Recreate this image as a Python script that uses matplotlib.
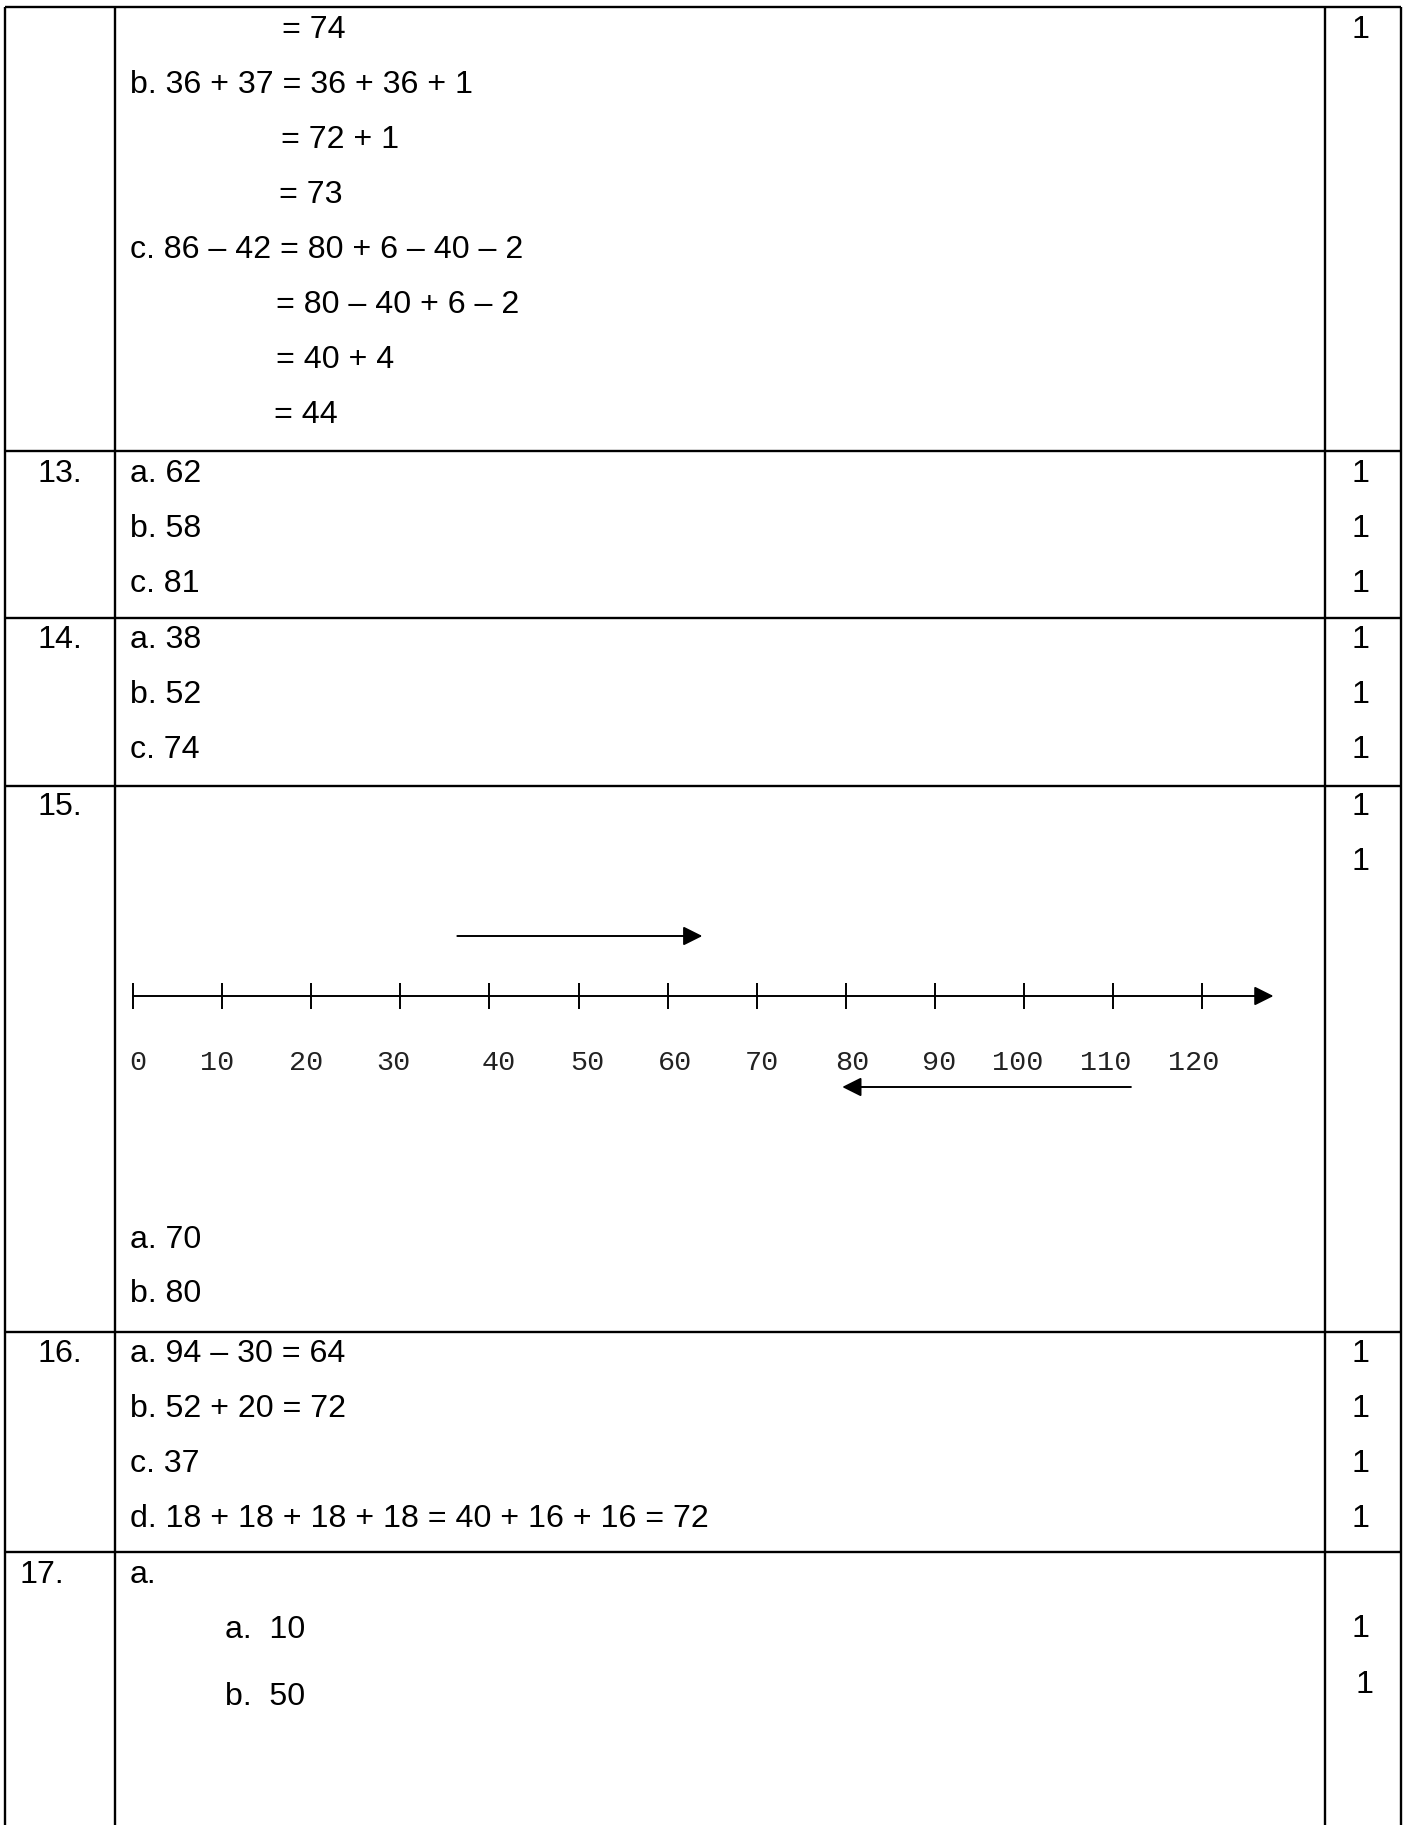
import matplotlib
matplotlib.use("Agg")
import matplotlib.pyplot as plt

W, H = 1406, 1825
SANS = ["Liberation Sans", "DejaVu Sans"]
MONO = ["Liberation Mono", "DejaVu Sans Mono"]
FS = 23.1      # main text size (pt)
FS_MONO = 20.5 # number line labels (pt)

# ---------------- data ----------------
question_labels = ["13.", "14.", "15.", "16.", "17."]

q12_lines = ["= 74", "b. 36 + 37 = 36 + 36 + 1", "= 72 + 1", "= 73",
             "c. 86 \u2013 42 = 80 + 6 \u2013 40 \u2013 2", "= 80 \u2013 40 + 6 \u2013 2",
             "= 40 + 4", "= 44"]
q13_lines = ["a. 62", "b. 58", "c. 81"]
q14_lines = ["a. 38", "b. 52", "c. 74"]
q15_lines = ["a. 70", "b. 80"]
q16_lines = ["a. 94 \u2013 30 = 64", "b. 52 + 20 = 72", "c. 37",
             "d. 18 + 18 + 18 + 18 = 40 + 16 + 16 = 72"]
q17_lines = ["a.", "a.  10", "b.  50"]
mark_text = "1"

numberline_values = [0, 10, 20, 30, 40, 50, 60, 70, 80, 90, 100, 110, 120]
numberline_labels = ["0", "10", "20", "30", "40", "50", "60", "70", "80", "90", "100", "110", "120"]
numberline_end = 128
jump_forward = (36.4, 63.9)   # upper arrow: from -> to
jump_back = (112.0, 79.6)     # lower arrow: from -> to

# ---------------- layout (pixels) ----------------
col_x = [5, 115, 1325, 1401]
row_lines = [7, 451, 618, 786, 1332, 1552]
ans_x = 130
mark_x = 1361
q_label_x = 60

q12_x = [282, 130, 281, 279, 130, 276, 276, 274]
q12_y = [38, 93, 148, 203, 258, 313, 368, 423]
q13_y = [482, 537, 592]
q14_y = [648, 703, 758]
q15_y = [1248, 1302]
q16_y = [1362, 1417, 1472, 1527]
q17_x = [130, 225, 225]
q17_y = [1583, 1638, 1705]
label_y = [482, 648, 815, 1362, 1583]

marks_y = [38, 482, 537, 592, 648, 703, 758, 815, 870, 1362, 1417, 1472, 1527, 1637, 1693]
marks_dx = [0] * 14 + [3]

nl_px0, nl_px_per_unit = 133.0, 8.91
nl_y, tick_half, nl_label_y = 996, 13, 1070
up_arrow_y, down_arrow_y = 936, 1087
label_nudge = [0.5, -0.6, -0.6, -0.8, 1.1, 1.0, 0.8, 0.6, 0.7, 0.5, -0.7, -0.8, -1.0]

# ---------------- figure ----------------
fig = plt.figure(figsize=(W / 100, H / 100), dpi=100)
fig.patch.set_facecolor("white")
ax = fig.add_axes([0, 0, 1, 1])
ax.set_xlim(0, W)
ax.set_ylim(H, 0)
ax.axis("off")

LW = 1.7
# horizontal rules
for y in row_lines:
    ax.plot([col_x[0], col_x[-1]], [y, y], color="black", lw=LW, solid_capstyle="butt")
# vertical rules
for x in col_x:
    ax.plot([x, x], [row_lines[0], H], color="black", lw=LW, solid_capstyle="butt")

def put(x, y, s, ha="left", **kw):
    ax.text(x, y, s, ha=ha, va="baseline", fontsize=FS, family=SANS, color="black", **kw)

for lab, y in zip(question_labels, label_y):
    if lab == "17.":
        put(20, y, lab)
    else:
        put(q_label_x, y, lab, ha="center")

for s, x, y in zip(q12_lines, q12_x, q12_y):
    put(x, y, s)
for s, y in zip(q13_lines, q13_y):
    put(ans_x, y, s)
for s, y in zip(q14_lines, q14_y):
    put(ans_x, y, s)
for s, y in zip(q15_lines, q15_y):
    put(ans_x, y, s)
for s, y in zip(q16_lines, q16_y):
    put(ans_x, y, s)
for s, x, y in zip(q17_lines, q17_x, q17_y):
    put(x, y, s)
for y, dx in zip(marks_y, marks_dx):
    put(mark_x + dx, y, mark_text, ha="center")

# ---------------- number line (own axes in number units) ----------------
left_px, right_px = col_x[1], col_x[2]
nl = fig.add_axes([left_px / W, 0, (right_px - left_px) / W, 1])
nl.set_xlim((left_px - nl_px0) / nl_px_per_unit, (right_px - nl_px0) / nl_px_per_unit)
nl.set_ylim(H, 0)
nl.axis("off")
nl.patch.set_alpha(0)

arrow_kw = dict(arrowstyle="-|>,head_length=0.4,head_width=0.2", color="black",
                lw=1.4, mutation_scale=29, shrinkA=0, shrinkB=0)
nl.annotate("", xy=(numberline_end, nl_y), xytext=(numberline_values[0], nl_y),
            arrowprops=arrow_kw)
nl.vlines(numberline_values, nl_y - tick_half, nl_y + tick_half, color="black", lw=1.4)
for v, lab, d in zip(numberline_values, numberline_labels, label_nudge):
    nl.text(v + d, nl_label_y, lab, ha="center", va="baseline", fontsize=FS_MONO,
            family=MONO, color="#222222")
nl.annotate("", xy=(jump_forward[1], up_arrow_y), xytext=(jump_forward[0], up_arrow_y),
            arrowprops=arrow_kw)
nl.annotate("", xy=(jump_back[1], down_arrow_y), xytext=(jump_back[0], down_arrow_y),
            arrowprops=arrow_kw)

fig.savefig("out.png", dpi=100, facecolor="white")
